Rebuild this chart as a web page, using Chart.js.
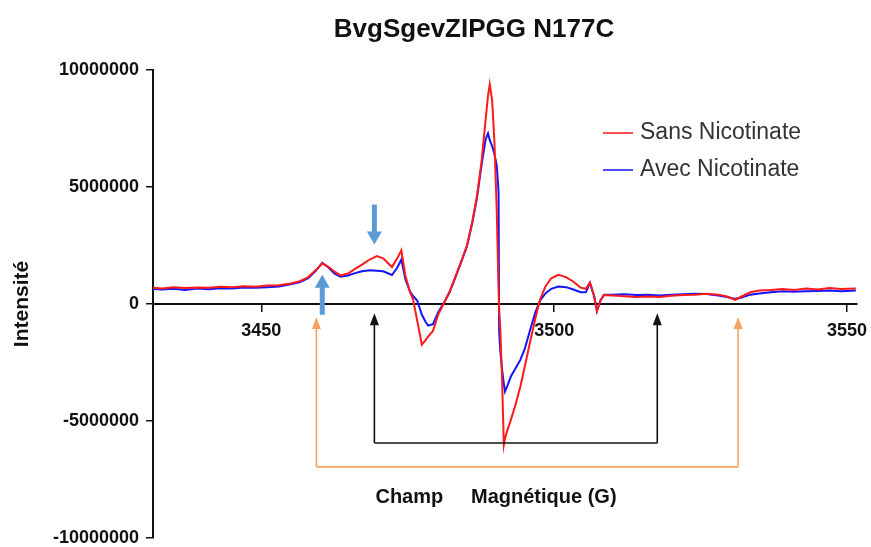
<!DOCTYPE html>
<html>
<head>
<meta charset="utf-8">
<script src="https://cdn.jsdelivr.net/npm/chart.js@4"></script>
<style>
  html, body { margin: 0; padding: 0; background: #fff; }
  #wrap { width: 871px; height: 547px; }
</style>
</head>
<body>
<div id="wrap"><canvas id="graphique-rpe"></canvas></div>
<script>
// Champ magnétique (G)
const champ = [
  3431.5, 3433, 3435, 3437, 3439, 3441, 3443, 3445, 3447, 3449, 3451, 3453, 3455, 3456.5, 3458, 3459.3,
  3460.4, 3461.5, 3462.5, 3463.5, 3464.8, 3466, 3467.2, 3468.5, 3469.7, 3470.8, 3472.3, 3473.2, 3473.9,
  3474.6, 3475.4, 3475.9, 3476.6, 3477.4, 3478.0, 3478.5, 3479.3, 3480.2, 3481.1, 3482.1, 3483.1, 3484.1,
  3485.1, 3486.0, 3486.8, 3487.6, 3488.3, 3488.7, 3489.0, 3489.4, 3489.8, 3490.2, 3490.5, 3490.6, 3490.8,
  3491.1, 3491.4, 3491.6, 3492.0, 3492.6, 3493.4, 3494.2, 3495.0, 3495.9, 3496.8, 3497.6, 3498.5, 3499.5,
  3500.7, 3502.0, 3503.3, 3504.5, 3505.4, 3506.1, 3506.8, 3507.3, 3507.9, 3508.5, 3510, 3512, 3514, 3516,
  3518, 3520, 3522, 3524, 3526, 3528, 3529.5, 3530.9, 3532, 3533.5, 3535, 3537, 3539, 3541, 3543, 3545,
  3547, 3549, 3551.5
];

const sansNicotinate = [
  0.70, 0.66, 0.72, 0.68, 0.71, 0.69, 0.74, 0.72, 0.76, 0.74, 0.79, 0.80, 0.88, 0.97, 1.15, 1.45,
  1.74, 1.58, 1.38, 1.22, 1.30, 1.50, 1.68, 1.90, 2.05, 1.95, 1.58, 1.95, 2.30,
  1.20, 0.50, 0.20, -0.70, -1.74, -1.55, -1.38, -1.15, -0.45, 0.00, 0.50, 1.15, 1.80,
  2.50, 3.50, 4.60, 6.10, 7.90, 8.90, 9.39, 8.70, 6.90, 3.90, 0.60, -0.20, -1.10,
  -3.20, -6.02, -5.75, -5.40, -4.95, -4.30, -3.55, -2.65, -1.60, -0.60, 0.20, 0.75, 1.10,
  1.25, 1.15, 0.95, 0.70, 0.65, 0.92, 0.35, -0.30, 0.15, 0.38, 0.36, 0.33, 0.30, 0.32,
  0.30, 0.35, 0.38, 0.40, 0.44, 0.40, 0.32, 0.18, 0.32, 0.50, 0.58, 0.60, 0.64, 0.60, 0.66, 0.62,
  0.68, 0.64, 0.66
];
const avecNicotinate = [
  0.64, 0.62, 0.65, 0.60, 0.66, 0.63, 0.67, 0.66, 0.70, 0.69, 0.72, 0.75, 0.84, 0.93, 1.10, 1.42,
  1.76, 1.55, 1.30, 1.17, 1.22, 1.32, 1.40, 1.44, 1.42, 1.40, 1.24, 1.55, 1.90,
  1.05, 0.52, 0.35, 0.15, -0.45, -0.75, -0.92, -0.86, -0.35, 0.02, 0.48, 1.12, 1.78,
  2.46, 3.45, 4.50, 5.95, 7.05, 7.29, 7.00, 6.75, 6.40, 5.90, 4.80, -1.20, -2.00,
  -2.80, -3.40, -3.74, -3.50, -3.10, -2.75, -2.40, -1.90, -1.10, -0.35, 0.15, 0.45, 0.65,
  0.75, 0.72, 0.62, 0.50, 0.50, 0.90, 0.35, -0.30, 0.15, 0.40, 0.40, 0.42, 0.38, 0.40,
  0.36, 0.40, 0.42, 0.44, 0.43, 0.36, 0.30, 0.22, 0.28, 0.40, 0.45, 0.50, 0.54, 0.52, 0.55, 0.56,
  0.58, 0.55, 0.58
];

const ticksChamp = [3450, 3500, 3550];
const ticksIntensite = [-10000000, -5000000, 0, 5000000, 10000000];
const legende = ["Sans Nicotinate", "Avec Nicotinate"];

// Flèches d'annotation (en unités du graphique)
const flechesBleues = [
  { x: 3469.3, de: 4250000, a: 2540000 },
  { x: 3460.4, de: -460000, a: 1250000 }
];
const crochetNoir = { gauche: 3469.3, droite: 3517.6, bas: -5940000, haut: -400000 };
const crochetOrange = { gauche: 3459.4, droite: 3531.4, bas: -6960000, haut: -560000 };

const police = "Arial, 'Liberation Sans', sans-serif";
const points = (serie) => serie.map((v, i) => ({ x: champ[i], y: v * 1000000 }));

function fleche(ctx, x, y1, y2, largeurTete, longueurTete) {
  const sens = y2 < y1 ? 1 : -1;
  ctx.beginPath();
  ctx.moveTo(x, y1);
  ctx.lineTo(x, y2 + sens * longueurTete * 0.8);
  ctx.stroke();
  ctx.beginPath();
  ctx.moveTo(x, y2);
  ctx.lineTo(x - largeurTete / 2, y2 + sens * longueurTete);
  ctx.lineTo(x + largeurTete / 2, y2 + sens * longueurTete);
  ctx.closePath();
  ctx.fill();
}

const annotations = {
  id: "annotations",
  afterDatasetsDraw(chart) {
    const ctx = chart.ctx;
    const sx = chart.scales.x;
    const sy = chart.scales.y;
    ctx.save();

    // crochets
    [[crochetOrange, "#f4a460"], [crochetNoir, "#111"]].forEach(([c, couleur]) => {
      const xg = sx.getPixelForValue(c.gauche);
      const xd = sx.getPixelForValue(c.droite);
      const yb = sy.getPixelForValue(c.bas);
      const yh = sy.getPixelForValue(c.haut);
      ctx.strokeStyle = couleur;
      ctx.fillStyle = couleur;
      ctx.lineWidth = 1.6;
      ctx.beginPath();
      ctx.moveTo(xg, yb);
      ctx.lineTo(xd, yb);
      ctx.stroke();
      fleche(ctx, xg, yb, yh, 9, 12);
      fleche(ctx, xd, yb, yh, 9, 12);
    });

    // flèches bleues
    ctx.strokeStyle = "#5b9bd5";
    ctx.fillStyle = "#5b9bd5";
    ctx.lineWidth = 5;
    flechesBleues.forEach((f) => {
      fleche(ctx, sx.getPixelForValue(f.x), sy.getPixelForValue(f.de), sy.getPixelForValue(f.a), 15, 13);
    });

    // titre
    ctx.fillStyle = "#111";
    ctx.textAlign = "center";
    ctx.textBaseline = "middle";
    ctx.font = "bold 26px " + police;
    ctx.fillText("BvgSgevZIPGG N177C", 474, 30);

    // titre de l'axe x
    ctx.font = "bold 20px " + police;
    ctx.fillText("Champ     Magnétique (G)", 496, 497);

    // légende
    const couleurs = chart.data.datasets.map((d) => d.borderColor);
    ctx.textAlign = "left";
    ctx.font = "23px " + police;
    legende.forEach((txt, i) => {
      const y = 133 + i * 37;
      ctx.strokeStyle = couleurs[i];
      ctx.lineWidth = 1.5;
      ctx.beginPath();
      ctx.moveTo(603, y);
      ctx.lineTo(633, y);
      ctx.stroke();
      ctx.fillStyle = "#333";
      ctx.fillText(txt, 640, y);
    });
    ctx.restore();
  }
};

new Chart(document.querySelector("#graphique-rpe"), {
  type: "line",
  data: {
    datasets: [
      { label: legende[0], data: points(sansNicotinate), borderColor: "#ff1a1a", borderWidth: 2, pointRadius: 0, tension: 0 },
      { label: legende[1], data: points(avecNicotinate), borderColor: "#1414ff", borderWidth: 2, pointRadius: 0, tension: 0 }
    ]
  },
  options: {
    responsive: true,
    maintainAspectRatio: false,
    animation: false,
    layout: { padding: { top: 70, right: 14, bottom: 0, left: 0 } },
    plugins: { legend: { display: false }, title: { display: false }, tooltip: { enabled: false } },
    scales: {
      x: {
        type: "linear",
        position: { y: 0 },
        min: 3431.5,
        max: 3551.7,
        afterBuildTicks: (scale) => { scale.ticks = ticksChamp.map((v) => ({ value: v })); },
        afterFit: (scale) => { scale.paddingLeft = 0; scale.paddingRight = 0; },
        grid: { drawOnChartArea: false, color: "#111", tickLength: 7, lineWidth: 1.5 },
        border: { color: "#111", width: 2 },
        ticks: { color: "#111", maxRotation: 0, padding: 9, callback: (v) => String(v), font: { family: police, size: 18, weight: "bold" } }
      },
      y: {
        min: -10000000,
        max: 10000000,
        afterBuildTicks: (scale) => { scale.ticks = ticksIntensite.map((v) => ({ value: v })); },
        afterFit: (scale) => { scale.width = 153; scale.paddingTop = 9; scale.paddingBottom = 9; },
        grid: { drawOnChartArea: false, color: "#111", tickLength: 7, lineWidth: 1.5 },
        border: { color: "#111", width: 2 },
        ticks: { color: "#111", padding: 7, callback: (v) => String(v), font: { family: police, size: 18, weight: "bold" } },
        title: { display: true, text: "Intensité", color: "#111", padding: { top: 10, bottom: 0 }, font: { family: police, size: 21, weight: "bold" } }
      }
    }
  },
  plugins: [annotations]
});
</script>
</body>
</html>
